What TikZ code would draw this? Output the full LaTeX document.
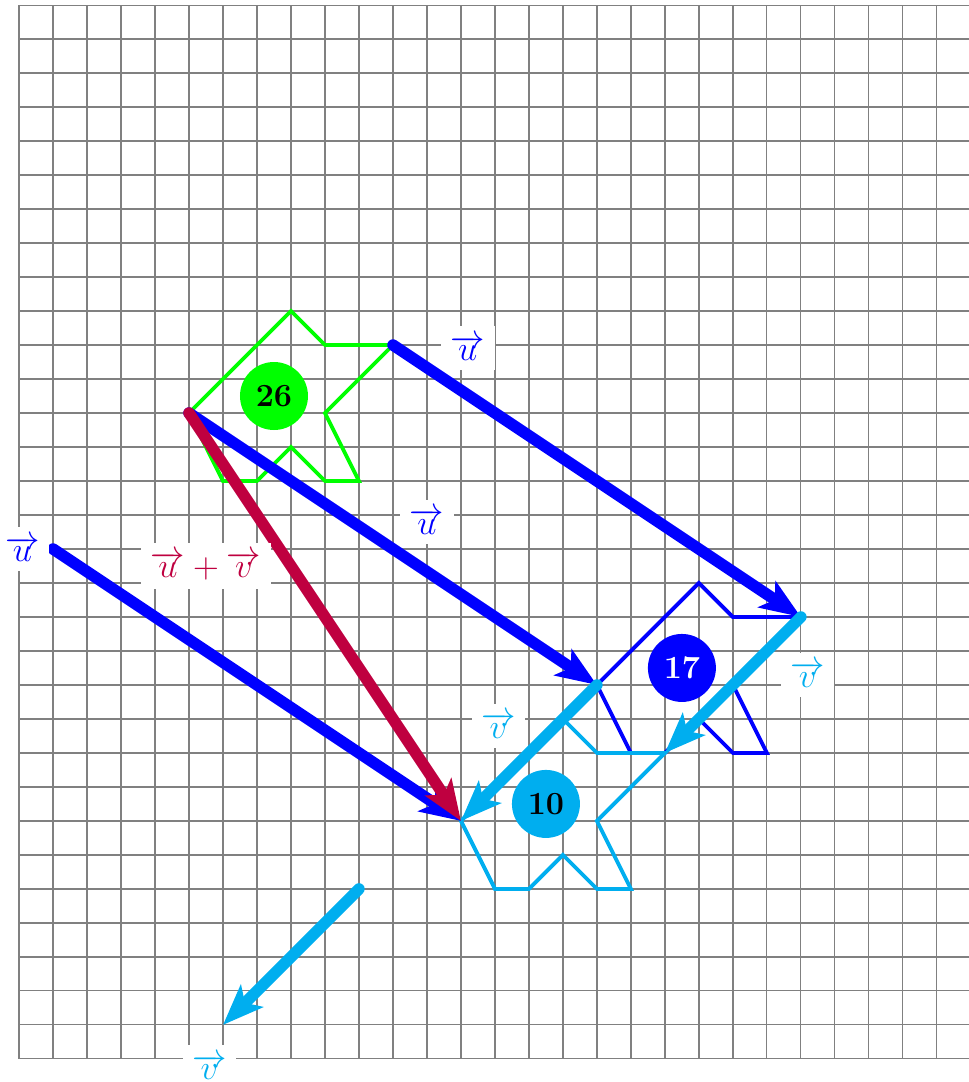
\documentclass[tikz,border=0pt]{standalone}
\usepackage{tikz}
\usetikzlibrary{arrows.meta}
\definecolor{vcyan}{RGB}{0,174,239}

\begin{document}
\begin{tikzpicture}[x=0.5cm, y=0.5cm,
  figline/.style={line width=1.6pt},
  vec/.style={line width=4.8pt, line cap=round, -{Stealth[length=17pt, width=13pt, inset=4pt]}},
  lbl/.style={fill=white, font=\fontsize{13.5}{16}\selectfont, inner sep=4pt},
  num/.style={circle, minimum size=1cm, inner sep=0pt, font=\fontsize{13.5}{16}\selectfont\bfseries}]

  \useasboundingbox (-0.56,-0.68) rectangle (27.94,31.15);
  \draw[gray, line width=0.5pt, step=0.5cm] (0,0) grid (28,31);

  \foreach \dx/\dy/\col in {0/0/green, 12/-8/blue, 8/-12/vcyan}
    \draw[figline, \col, shift={(\dx,\dy)}] (5,19) -- (8,22) -- (9,21) -- (11,21) -- (9,19) -- (10,17)
      -- (9,17) -- (8,18) -- (7,17) -- (6,17) -- cycle;

  \node[num, fill=green] (n26) at (7.5,19.5) {26};
  \node[num, fill=blue, text=white] (n17) at (19.5,11.5) {17};
  \node[num, fill=vcyan] (n10) at (15.5,7.5) {10};

  \coordinate (A) at (5,19);
  \coordinate (B) at (11,21);
  \coordinate (A1) at (17,11);
  \coordinate (B1) at (23,13);
  \coordinate (A2) at (13,7);
  \coordinate (B2) at (19,9);
  \coordinate (P) at (1,15);
  \coordinate (Q) at (10,5);
  \coordinate (Q1) at (6,1);

  \draw[vec, blue] (B) -- (B1);
  \draw[vec, blue] (A) -- (A1);
  \draw[vec, blue] (P) -- (A2);
  \draw[vec, purple] (A) -- (A2);
  \draw[vec, vcyan] (B1) -- (B2);
  \draw[vec, vcyan] (A1) -- (A2);
  \draw[vec, vcyan] (Q) -- (Q1);

  \node[lbl, text=blue] (lu1) at (13.2,20.9) {$\overrightarrow{u}$};
  \node[lbl, text=blue] (lu2) at (12,15.8) {$\overrightarrow{u}$};
  \node[lbl, text=blue] (lu3) at (0.1,15) {$\overrightarrow{u}$};
  \node[lbl, text=purple] (luv) at (5.5,14.5) {$\overrightarrow{u}+\overrightarrow{v}$};
  \node[lbl, text=vcyan] (lv1) at (23.2,11.3) {$\overrightarrow{v}$};
  \node[lbl, text=vcyan] (lv2) at (14.1,9.8) {$\overrightarrow{v}$};
  \node[lbl, text=vcyan] (lv3) at (5.6,-0.25) {$\overrightarrow{v}$};
\end{tikzpicture}
\end{document}
